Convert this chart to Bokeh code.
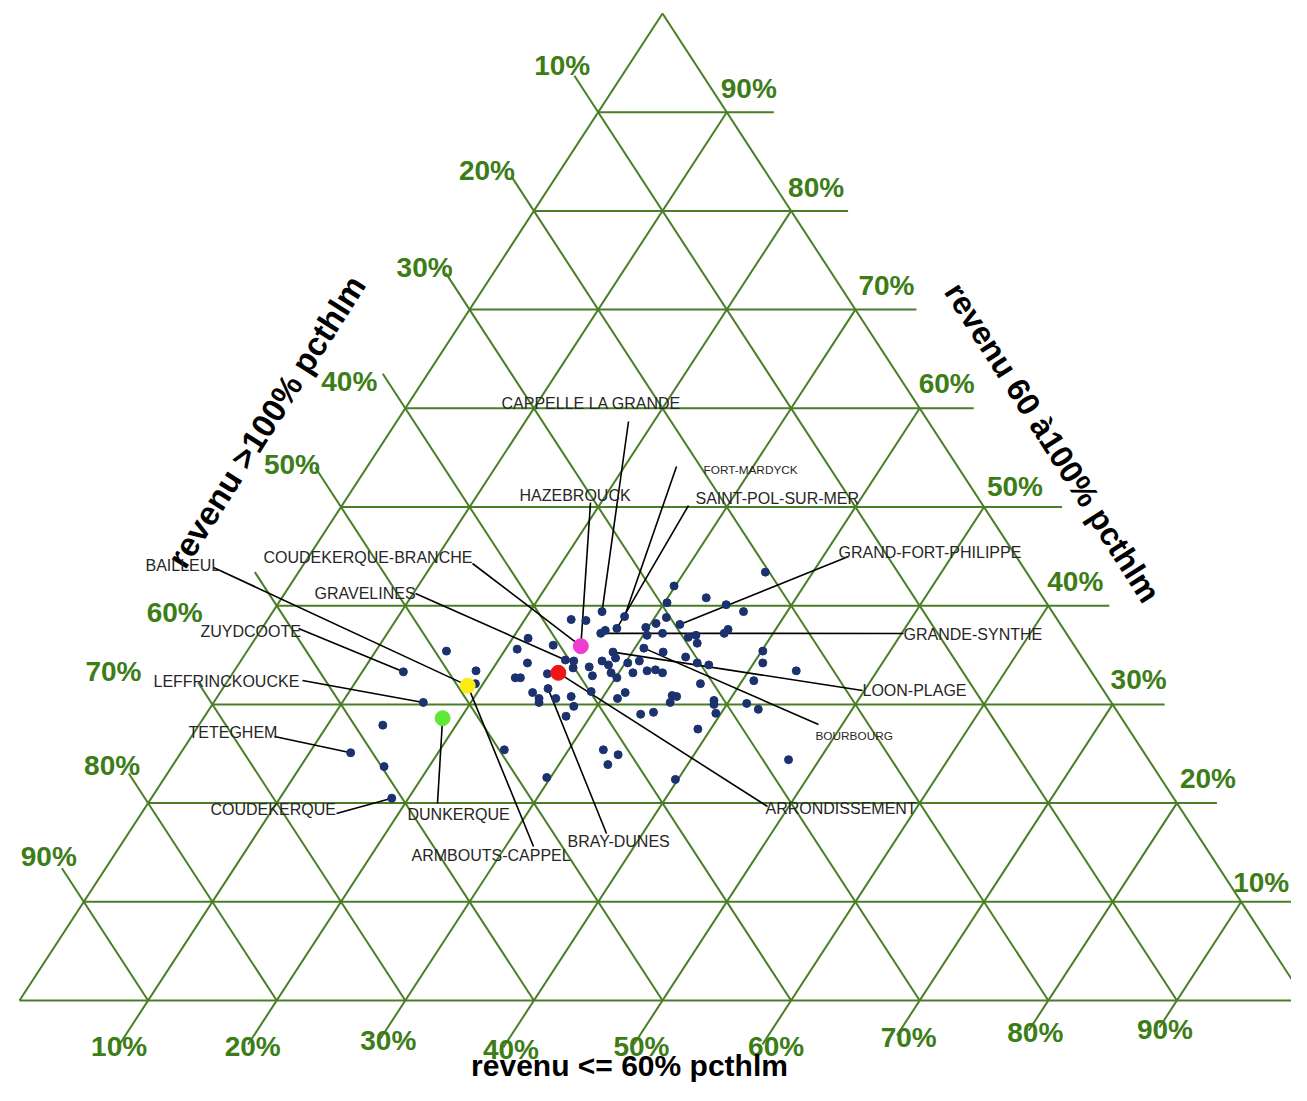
from bokeh.plotting import figure
from bokeh.models import Range1d
from bokeh.core.properties import value
from bokeh.embed import file_html
from bokeh.resources import INLINE

# ------------------------------------------------------------------ data
# shares in percent: le60 = "revenu <= 60% pcthlm", m60_100 = "revenu 60 à100% pcthlm"
# (the third share "revenu >100% pcthlm" is 100 - le60 - m60_100)
tick_values = [10, 20, 30, 40, 50, 60, 70, 80, 90]
tick_labels = ["10%", "20%", "30%", "40%", "50%", "60%", "70%", "80%", "90%"]

title_le60 = "revenu <= 60% pcthlm"
title_60_100 = "revenu 60 à100% pcthlm"
title_gt100 = "revenu >100% pcthlm"

other_le60 = [15.5, 18.8, 19.4, 14.3, 16.5, 25.0, 36.3, 29.9, 33.0, 30.2, 34.9, 36.6,
              23.6, 24.8, 30.9, 30.4, 26.8, 29.8, 30.3, 31.4, 33.6, 34.1, 34.6, 36.2,
              36.3, 21.2, 23.5, 20.9, 29.0, 32.4, 34.4, 40.1, 40.7, 43.7, 22.4, 25.9,
              26.2, 27.4, 28.1, 28.8, 30.2, 31.0, 35.6, 36.6, 24.5, 28.1, 29.4, 30.1,
              31.1, 32.1, 32.7, 33.4, 22.2, 22.6, 36.9, 40.9, 24.3, 25.1, 25.3, 26.4,
              27.5, 28.8, 31.5, 31.2, 28.2, 35.3, 35.7, 35.5, 38.8, 39.0, 39.6, 41.5,
              42.7, 33.8, 34.7, 28.1, 39.0, 47.6, 32.7, 34.1, 33.8, 29.7, 39.8]
other_60_100 = [35.4, 33.4, 32.1, 27.9, 23.7, 25.4, 43.4, 42.0, 40.8, 40.3, 40.1, 39.4,
                38.6, 38.5, 38.8, 38.2, 37.5, 37.8, 37.0, 37.2, 36.8, 37.0, 36.2, 37.2,
                37.6, 36.7, 36.0, 35.6, 34.7, 35.3, 34.8, 35.4, 34.2, 33.4, 34.2, 34.4,
                33.7, 33.8, 34.4, 34.0, 34.2, 34.4, 34.2, 34.0, 33.1, 32.9, 33.2, 32.7,
                33.2, 33.4, 33.5, 33.2, 32.7, 32.7, 32.1, 32.4, 31.2, 30.6, 30.2, 30.6,
                30.8, 31.3, 31.2, 30.6, 29.8, 30.9, 30.8, 30.2, 30.4, 30.0, 29.1, 30.1,
                29.5, 29.0, 29.2, 28.8, 27.5, 24.4, 25.4, 24.9, 23.9, 22.6, 22.4]

label_names = ["CAPPELLE LA GRANDE", "FORT-MARDYCK", "HAZEBROUCK", "SAINT-POL-SUR-MER",
               "GRAND-FORT-PHILIPPE", "GRANDE-SYNTHE", "LOON-PLAGE", "BOURBOURG",
               "ARRONDISSEMENT", "BRAY-DUNES", "ARMBOUTS-CAPPEL", "DUNKERQUE",
               "COUDEKERQUE", "TETEGHEM", "LEFFRINCKOUCKE", "ZUYDCOOTE", "BAILLEUL",
               "COUDEKERQUE-BRANCHE", "GRAVELINES"]
label_le60 = [25.6, 27.6, 25.7, 27.6, 32.3, 26.6, 28.5, 30.7, 25.3, 25.3, 18.9, 18.6,
              18.7, 13.2, 16.3, 13.2, 18.9, 25.7, 25.2]
label_60_100 = [39.4, 38.9, 35.9, 37.7, 38.1, 37.2, 35.3, 35.7, 33.2, 31.6, 31.9, 28.6,
                20.5, 25.1, 30.2, 33.3, 31.9, 35.9, 34.5]

hl_le60 = [25.7, 25.3, 18.9, 18.6]
hl_60_100 = [35.9, 33.2, 31.9, 28.6]
hl_colors = ["#f03ccf", "#f01414", "#fcec10", "#5fe83a"]

# ------------------------------------------------------------------ layout
L0, W0, B0, H0 = 19.0, 1286.0, 1000.0, 987.0   # picture px of triangle frame
FW, FH = 1291, 1085
GREEN_LINE = "#4a7d27"
GREEN_TEXT = "#3c7d18"
NAVY = "#1b326f"
FONT = "Liberation Sans"


def tern(a, b):
    """fractions (a = <=60%, b = 60-100%) -> plot coords"""
    return a + b / 2.0, b


def pxy(x, y):
    """picture pixel -> plot coords (annotation layout only)"""
    return (x - L0) / W0, (B0 - y) / H0


p = figure(width=FW, height=FH, output_backend="svg", toolbar_location=None,
           x_range=Range1d((0 - L0) / W0, (FW - L0) / W0),
           y_range=Range1d((B0 - FH) / H0, (B0 - 0) / H0),
           min_border=0, outline_line_color=None, background_fill_color="white")
p.axis.visible = False
p.grid.visible = False

# ---- grid
ext_right_px = {90: 47, 80: 57, 70: 61, 60: 54, 50: 78, 40: 61, 30: 52, 20: 40, 10: 50}
ext_left_t = {10: 0.037, 20: 0.034, 30: 0.037, 40: 0.035, 50: 0.04, 60: 0.034,
              70: 0.022, 80: 0.03, 90: 0.034}
bot_off = {10: (-29, 46), 20: (-24, 46), 30: (-17, 40), 40: (-23, 49), 50: (-21, 46),
           60: (-15, 46), 70: (-11, 37), 80: (-13, 32), 90: (-12, 29)}
left_off = {10: (-36, -47), 20: (-47, -40), 30: (-45, -42), 40: (-56, -27), 50: (-49, -43),
            60: (-102, 7), 70: (-99, -33), 80: (-36, -38), 90: (-35, -45)}
right_off = {90: (22, -24), 80: (25, -23), 70: (31, -24), 60: (27, -25), 50: (31, -21),
             40: (27, -24), 30: (26, -25), 20: (31, -25), 10: (20, -19)}

xs, ys = [], []
# outer triangle
for (a1, b1), (a2, b2) in [((0, 0), (1, 0)), ((0, 0), (0, 1)), ((1, 0), (0, 1))]:
    x1, y1 = tern(a1, b1)
    x2, y2 = tern(a2, b2)
    xs.append([x1, x2]); ys.append([y1, y2])

for v in tick_values:
    f = v / 100.0
    # constant 60-100% share (horizontal), extended to the right
    x1, y1 = tern(0, f)
    x2, y2 = tern(1 - f, f)
    xs.append([x1, x2 + ext_right_px[v] / W0]); ys.append([y1, y2])
    # constant >100% share, extended beyond left edge
    t = ext_left_t[v]
    x1, y1 = tern(-t, 1 - f + t)
    x2, y2 = tern(1 - f, 0)
    xs.append([x1, x2]); ys.append([y1, y2])
    # constant <=60% share, extended below base
    t = (bot_off[v][1] - 2) / H0
    x1, y1 = tern(f, -t)
    x2, y2 = tern(f, 1 - f)
    xs.append([x1, x2]); ys.append([y1, y2])

p.multi_line(xs, ys, line_color=GREEN_LINE, line_width=2)

# ---- tick labels
tx, ty, tt = [], [], []
for v, lab in zip(tick_values, tick_labels):
    f = v / 100.0
    # bottom axis (<=60%)
    bx, by = L0 + W0 * f, B0
    ox, oy = bot_off[v]
    X, Y = pxy(bx + ox, by + oy); tx.append(X); ty.append(Y); tt.append(lab)
    # left axis (>100%): point on left edge where share = f
    lx, ly = L0 + W0 * (1 - f) / 2, B0 - H0 * (1 - f)
    ox, oy = left_off[v]
    X, Y = pxy(lx + ox, ly + oy); tx.append(X); ty.append(Y); tt.append(lab)
    # right axis (60-100%): point on right edge
    rx, ry = L0 + W0 * (1 - f / 2), B0 - H0 * f
    ox, oy = right_off[v]
    X, Y = pxy(rx + ox, ry + oy); tx.append(X); ty.append(Y); tt.append(lab)

p.text(tx, ty, text=tt, text_font=value(FONT), text_font_style="bold",
       text_font_size="28px", text_color=GREEN_TEXT, text_align="center",
       text_baseline="middle")

# ---- axis titles
X, Y = pxy(629, 1065)
p.text([X], [Y], text=[title_le60], text_font=value(FONT), text_font_style="bold",
       text_font_size="30px", text_color="black", text_align="center",
       text_baseline="middle")
X, Y = pxy(266, 421)
p.text([X], [Y], text=[title_gt100], angle=57.5, angle_units="deg", text_font=value(FONT),
       text_font_style="bold", text_font_size="33px", text_color="black",
       text_align="center", text_baseline="middle")
X, Y = pxy(1052, 442)
p.text([X], [Y], text=[title_60_100], angle=-57.5, angle_units="deg", text_font=value(FONT),
       text_font_style="bold", text_font_size="32px", text_color="black",
       text_align="center", text_baseline="middle")

# ---- leader lines and city labels
label_layout = {  # name: (text left x, text middle y, leader start x, leader start y, small)
    "CAPPELLE LA GRANDE": (501, 403, 628, 421, False),
    "FORT-MARDYCK": (703, 469, 676, 466, True),
    "HAZEBROUCK": (519, 495, 590, 502, False),
    "SAINT-POL-SUR-MER": (695, 498, 688, 505, False),
    "GRAND-FORT-PHILIPPE": (838, 552, 848, 556, False),
    "GRANDE-SYNTHE": (903, 634, 903, 633, False),
    "LOON-PLAGE": (862, 690, 862, 690, False),
    "BOURBOURG": (815, 735, 818, 724, True),
    "ARRONDISSEMENT": (765, 808, 767, 806, False),
    "BRAY-DUNES": (567, 841, 606, 833, False),
    "ARMBOUTS-CAPPEL": (411, 855, 533, 846, False),
    "DUNKERQUE": (407, 814, 437, 803, False),
    "COUDEKERQUE": (210, 809, 336, 813, False),
    "TETEGHEM": (188, 732, 274, 736, False),
    "LEFFRINCKOUCKE": (153, 681, 302, 680, False),
    "ZUYDCOOTE": (200, 631, 298, 628, False),
    "BAILLEUL": (145, 565, 213, 567, False),
    "COUDEKERQUE-BRANCHE": (263, 557, 472, 563, False),
    "GRAVELINES": (314, 593, 415, 593, False),
}

lxs, lys = [], []
nx, ny, nt = [], [], []
sx, sy, st = [], [], []
for name, a, b in zip(label_names, label_le60, label_60_100):
    txp, typ, sxp, syp, small = label_layout[name]
    x0, y0 = pxy(sxp, syp)
    x1, y1 = tern(a / 100.0, b / 100.0)
    lxs.append([x0, x1]); lys.append([y0, y1])
    X, Y = pxy(txp, typ)
    if small:
        sx.append(X); sy.append(Y); st.append(name)
    else:
        nx.append(X); ny.append(Y); nt.append(name)

p.multi_line(lxs, lys, line_color="black", line_width=1.6)

# ---- points
ox_, oy_ = zip(*[tern(a / 100.0, b / 100.0) for a, b in zip(other_le60, other_60_100)])
p.scatter(list(ox_), list(oy_), size=8, marker="circle", fill_color=NAVY, line_color=NAVY)
cx_, cy_ = zip(*[tern(a / 100.0, b / 100.0) for a, b in zip(label_le60, label_60_100)])
p.scatter(list(cx_), list(cy_), size=8, marker="circle", fill_color=NAVY, line_color=NAVY)
hx_, hy_ = zip(*[tern(a / 100.0, b / 100.0) for a, b in zip(hl_le60, hl_60_100)])
p.scatter(list(hx_), list(hy_), size=15, marker="circle", fill_color=hl_colors,
          line_color=hl_colors)

p.text(nx, ny, text=nt, text_font=value(FONT), text_font_size="16px",
       text_color="#262626", text_align="left", text_baseline="middle")
p.text(sx, sy, text=st, text_font=value(FONT), text_font_size="11.8px",
       text_color="#262626", text_align="left", text_baseline="middle")

open("out.html", "w").write(file_html(p, INLINE))
